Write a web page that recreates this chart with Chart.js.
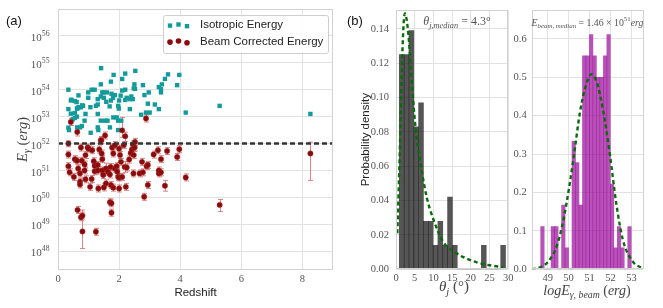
<!DOCTYPE html>
<html>
<head>
<meta charset="utf-8">
<script src="https://cdn.jsdelivr.net/npm/chart.js@4.4.0/dist/chart.umd.min.js"></script>
<style>
  html, body { margin: 0; padding: 0; background: #fff; }
  #wrap { position: relative; width: 663px; height: 308px; overflow: hidden; }
  canvas { position: absolute; top: 0; }
</style>
</head>
<body>
<div id="wrap">
  <canvas id="chartA" width="340" height="308" style="left:0"></canvas>
  <canvas id="chartB" width="185" height="308" style="left:340px"></canvas>
  <canvas id="chartC" width="163" height="308" style="left:500px"></canvas>
</div>
<script>
// ---------- panel (a): redshift vs log10(E_gamma / erg)
const isoPoints = [
  [1.41,54.8],[0.34,54.0],[0.42,53.6],[0.55,53.58],[0.61,53.54],[0.67,53.79],[0.34,53.28],[0.42,53.11],
  [0.55,53.13],[0.62,53.3],[0.67,53.35],[0.75,53.35],[0.82,53.4],[0.48,52.9],[0.55,52.95],[0.62,53.0],
  [0.34,52.59],[0.36,52.5],[0.63,52.6],[0.72,52.6],[0.78,52.65],[0.87,52.85],[0.9,53.1],[0.99,53.9],
  [1.1,54.0],[1.2,54.0],[0.99,53.7],[1.06,53.35],[1.24,53.4],[1.3,53.45],[1.3,53.65],[1.4,53.75],
  [1.45,53.9],[1.5,53.9],[1.6,53.9],[1.4,54.2],[1.3,53.1],[1.3,52.6],[1.32,52.5],[1.07,52.4],
  [1.4,52.85],[1.54,52.85],[1.62,52.85],[1.7,52.6],[1.97,52.5],[1.97,52.85],[1.81,52.97],[1.92,52.97],
  [2.07,52.85],[1.97,53.4],[1.99,53.3],[1.69,53.38],[1.73,53.6],[1.8,53.7],[1.86,53.8],[1.75,53.85],
  [1.58,53.55],[1.5,53.7],[1.73,54.3],[1.82,54.55],[2.0,53.6],[2.05,53.78],[2.1,53.97],[2.2,54.0],
  [2.1,54.4],[2.2,54.6],[2.2,53.62],[2.25,53.7],[2.35,53.65],[2.35,53.28],[2.4,53.75],[2.45,53.65],
  [2.48,54.05],[2.5,54.2],[2.52,54.03],[2.53,54.7],[2.72,53.07],[2.78,54.17],[2.83,53.8],[2.88,53.15],
  [2.94,53.48],[2.97,53.9],[3.0,53.15],[3.17,53.45],[3.3,53.28],[3.3,54.1],[3.37,54.02],[3.37,53.9],
  [3.4,54.2],[3.5,54.4],[3.6,54.57],[3.9,54.17],[3.97,54.55],[4.18,53.15],[5.29,53.4],[8.26,53.1],
  [0.44,53.63],[0.7,53.35],[0.79,53.42],[0.63,53.3]
];
// [z, logE, err down, err up]; missing errors use beamErrDefault
const beamPoints = [
  [0.34,52.0,0.12,0.1],[0.34,51.59],[0.34,51.16],[0.38,50.93],[0.55,51.42],[0.52,50.76],[0.75,51.85],
  [0.62,51.36],[0.66,51.07],[0.72,50.89],[0.72,50.58],[0.72,50.48],[0.78,51.36],[0.87,51.22],[0.87,51.0],
  [0.9,51.57],[0.9,50.67],[0.97,51.85],[1.0,51.81],[1.05,50.39],[1.1,50.68],[1.12,51.75],[1.17,51.34],
  [1.2,50.97],[1.2,51.17],[1.3,51.2],[1.3,51.0],[1.32,50.33],[1.35,51.78],[1.42,52.12],[1.43,51.63],
  [1.45,51.42],[1.45,51.0],[1.48,50.83],[1.5,50.37],[1.57,50.52],[1.57,51.07,0.2,0.2],[1.63,50.95],
  [1.7,50.85],[1.72,51.13],[1.73,50.46],[1.81,50.36],[1.77,51.85],[1.81,51.63],[1.86,51.94],[1.86,51.07],
  [1.92,51.16],[1.94,50.95],[1.97,50.76],[2.0,50.74],[2.0,50.33],[2.0,51.81],[2.03,51.57],[2.06,51.32],
  [2.1,50.76],[2.15,51.94],[2.18,51.13,0.2,0.2],[2.22,50.39],[2.25,51.11],[2.33,51.41],[2.38,51.65],
  [2.42,51.78],[2.45,51.97],[2.47,50.89],[2.48,51.57],[2.52,52.06],[2.51,51.85],[2.67,50.89],[2.75,51.32],
  [2.78,50.93],[2.82,50.02],[2.9,51.16],[2.94,51.2],[2.94,50.46],[3.13,51.59],[3.27,51.75],[3.3,50.89],
  [3.3,51.0],[3.37,51.42],[3.37,50.93],[3.5,50.43,0.2,0.2],[3.57,51.72],[3.9,51.5],[3.97,51.79],
  [4.18,50.74],[5.29,49.72,0.25,0.2],[8.26,51.63,1.0,0.42],[0.64,49.53],[0.75,49.26],[0.8,49.32],
  [0.8,48.73,0.63,0.8],[1.24,48.72],[1.7,49.82],[1.75,49.78],[1.75,49.43],[0.42,52.8],[0.63,52.43,0.15,0.15],
  [2.1,52.49,0.26,0.48],[2.2,52.27,0.2,0.15],[2.88,52.93],[1.54,52.3],[1.4,52.12]
];
const beamErrDefault = 0.13;
const energyThreshold = 52;
const redshiftRange = [0, 9];
const energyRange = [47.3, 57];
const redshiftTicks = [0, 2, 4, 6, 8];
const energyTicks = [48, 49, 50, 51, 52, 53, 54, 55, 56];

// ---------- panel (b): jet opening angle histogram
const thetaBinStart = 0.88;
const thetaBinWidth = 1.29;
const thetaDensity = [0.125,0.125,0.139,0.083,0.097,0.028,0.028,0.014,0.028,0.014,0.042,0.014,
                      0,0,0,0,0,0.014,0,0,0,0.014];
const thetaFit = [[0.36,0.021],[0.7,0.045],[1.07,0.073],[1.5,0.112],[1.8,0.132],[2.1,0.145],[2.4,0.149],
                  [2.8,0.146],[3.3,0.137],[3.9,0.12],[4.6,0.098],[5.5,0.077],[6.9,0.057],[8.2,0.042],
                  [10,0.029],[12.6,0.016],[16.2,0.0093],[19.3,0.0058],[22.4,0.0035],[25.5,0.0022],[28.7,0.0012]];
const thetaRange = [0, 30];
const thetaTicks = [0, 5, 10, 15, 20, 25, 30];
const thetaDensityTicks = [0, 0.02, 0.04, 0.06, 0.08, 0.10, 0.12, 0.14];
const thetaMedian = 4.3;

// ---------- panel (c): beamed energy histogram
const eBinStart = 48.668;
const eBinWidth = 0.166;
const eDensity = [0.111,0,0,0.111,0.111,0,0.167,0.056,0,0.333,0.278,0.167,0.556,0.556,0.611,
                  0.556,0.5,0.5,0.556,0.611,0.222,0.056,0.111,0.056,0,0.111];
const eFit = [[48.24,0.0],[48.72,0.007],[49.03,0.02],[49.43,0.06],[49.74,0.125],[50.06,0.225],[50.3,0.315],
              [50.53,0.405],[50.77,0.468],[51.09,0.508],[51.36,0.484],[51.64,0.415],[51.96,0.302],
              [52.27,0.172],[52.59,0.076],[53.06,0.02],[53.5,0.003]];
const eRange = [48.24, 53.56];
const eTicks = [49, 50, 51, 52, 53];
const eDensityTicks = [0, 0.1, 0.2, 0.3, 0.4, 0.5, 0.6];
const eMedian = '1.46';
const eMedianExp = '51';

// ---------- styling
const serif = "'Liberation Serif', 'DejaVu Serif', serif";
const sans = "'Liberation Sans', Arial, sans-serif";
const gridColor = '#e2e2e2';
const tickColor = '#555';
const tickFont = { size: 10.5 };
const isoColor = '#149a9a';
const beamColor = '#8a0b0b';
const fitColor = '#0b6b0b';

Chart.defaults.font.family = serif;
Chart.defaults.color = tickColor;
Chart.defaults.animation = false;

// text with sub/superscripts, anchored at (x, cy): align 'center' or 'right'
function mathText(ctx, parts, x0, cy, size, color, align) {
  const fontOf = p => (p.i ? 'italic ' : '') + (p.s ? size * 0.7 : size) + 'px ' + serif;
  const widths = parts.map(p => { ctx.font = fontOf(p); return ctx.measureText(p.t).width; });
  const total = widths.reduce((a, b) => a + b, 0);
  let x = align === 'right' ? x0 - total : x0 - total / 2;
  const base = cy + size * 0.33;
  ctx.fillStyle = color;
  ctx.textAlign = 'left';
  ctx.textBaseline = 'alphabetic';
  parts.forEach((p, k) => {
    ctx.font = fontOf(p);
    const dy = p.s === 'sub' ? size * 0.24 : p.s === 'sup' ? -size * 0.45 : 0;
    ctx.fillText(p.t, x, base + dy);
    x += widths[k];
  });
}

function fixBox(w, h) {
  return s => {
    if (w !== null) s.width = w;
    if (h !== null) s.height = h;
    s.paddingTop = 0; s.paddingBottom = 0; s.paddingLeft = 0; s.paddingRight = 0;
  };
}
const setTicks = list => s => { s.ticks = list.map(v => ({ value: v })); };

const frame = {
  id: 'frame',
  afterDatasetsDraw(chart) {
    const { ctx, chartArea: a } = chart;
    ctx.save();
    ctx.strokeStyle = '#d2d2d2';
    ctx.lineWidth = 1;
    ctx.strokeRect(Math.round(a.left) + 0.5, Math.round(a.top) + 0.5,
                   Math.round(a.right - a.left) - 1, Math.round(a.bottom - a.top) - 1);
    ctx.restore();
  }
};

// ---------- chart (a)
const errorBars = {
  id: 'errorBars',
  beforeDatasetsDraw(chart) {
    const { ctx, scales: { x, y } } = chart;
    ctx.save();
    ctx.strokeStyle = 'rgba(205,95,95,0.75)';
    ctx.lineWidth = 1;
    beamPoints.forEach(p => {
      const px = Math.round(x.getPixelForValue(p[0])) + 0.5;
      const lo = y.getPixelForValue(p[1] - (p[2] ?? beamErrDefault));
      const hi = y.getPixelForValue(p[1] + (p[3] ?? beamErrDefault));
      ctx.beginPath();
      ctx.moveTo(px, lo); ctx.lineTo(px, hi);
      ctx.moveTo(px - 2.5, lo); ctx.lineTo(px + 2.5, lo);
      ctx.moveTo(px - 2.5, hi); ctx.lineTo(px + 2.5, hi);
      ctx.stroke();
    });
    ctx.restore();
  }
};

const panelA = {
  id: 'panelA',
  afterDraw(chart) {
    const ctx = chart.ctx;
    const yScale = chart.scales.y;
    ctx.save();
    // power-of-ten tick labels placed by the y scale
    energyTicks.forEach(v => {
      mathText(ctx, [{ t: '10' }, { t: String(v), s: 'sup' }], 49.5, yScale.getPixelForValue(v) + 1.5, 11, tickColor, 'right');
    });
    // panel label
    ctx.font = '13px ' + sans;
    ctx.fillStyle = '#111';
    ctx.textAlign = 'left';
    ctx.textBaseline = 'alphabetic';
    ctx.fillText('(a)', 6, 24.5);
    // y title
    ctx.save();
    ctx.translate(22, 139.5);
    ctx.rotate(-Math.PI / 2);
    mathText(ctx, [{ t: 'E', i: 1 }, { t: 'γ', i: 1, s: 'sub' }, { t: ' (' }, { t: 'erg', i: 1 }, { t: ')' }],
             0, 0, 14.5, '#444');
    ctx.restore();
    // legend
    ctx.fillStyle = 'rgba(255,255,255,0.92)';
    ctx.strokeStyle = '#cfcfcf';
    ctx.lineWidth = 1;
    ctx.beginPath();
    ctx.roundRect(163.5, 15.5, 165, 38, 2);
    ctx.fill();
    ctx.stroke();
    const markerX = [170, 178.5, 187];
    const markerDy = [1.1, 0, 1.7];
    const rows = [
      { label: 'Isotropic Energy', y: 24.5, draw: (x, y) => { ctx.fillStyle = isoColor; ctx.fillRect(x - 2.2, y - 2.2, 4.4, 4.4); } },
      { label: 'Beam Corrected Energy', y: 41, draw: (x, y) => { ctx.fillStyle = beamColor; ctx.beginPath(); ctx.arc(x, y, 2.8, 0, Math.PI * 2); ctx.fill(); } }
    ];
    rows.forEach(r => {
      markerX.forEach((mx, k) => r.draw(mx, r.y + markerDy[k]));
      ctx.font = '11.5px ' + sans;
      ctx.fillStyle = '#222';
      ctx.textAlign = 'left';
      ctx.textBaseline = 'middle';
      ctx.fillText(r.label, 200, r.y + 0.5);
    });
    ctx.restore();
  }
};

new Chart(document.getElementById('chartA'), {
  type: 'scatter',
  data: {
    datasets: [
      {
        label: 'Isotropic Energy',
        data: isoPoints.map(p => ({ x: p[0], y: p[1] })),
        pointStyle: 'rect',
        pointRadius: 3.1,
        backgroundColor: isoColor,
        borderWidth: 0,
        order: 2
      },
      {
        label: 'Beam Corrected Energy',
        data: beamPoints.map(p => ({ x: p[0], y: p[1] })),
        pointStyle: 'circle',
        pointRadius: 2.7,
        backgroundColor: beamColor,
        borderColor: 'rgba(170,50,50,0.4)',
        borderWidth: 1,
        order: 1
      },
      {
        label: 'threshold',
        data: redshiftRange.map(z => ({ x: z, y: energyThreshold })),
        showLine: true,
        pointRadius: 0,
        borderColor: '#333',
        borderWidth: 2.5,
        borderDash: [5, 3],
        order: 0
      }
    ]
  },
  options: {
    responsive: false,
    devicePixelRatio: 1,
    layout: { padding: { left: 0, top: 9, right: 7, bottom: 0 } },
    plugins: { legend: { display: false }, tooltip: { enabled: false } },
    scales: {
      x: {
        type: 'linear', min: redshiftRange[0], max: redshiftRange[1],
        afterBuildTicks: setTicks(redshiftTicks),
        afterFit: fixBox(null, 38),
        grid: { color: gridColor, drawTicks: false },
        border: { display: false },
        ticks: { font: tickFont, color: tickColor, padding: 2.5 },
        title: { display: true, text: 'Redshift', color: '#222', font: { family: sans, size: 11.5 },
                 padding: { top: 0, bottom: 8.4 } }
      },
      y: {
        type: 'linear', min: energyRange[0], max: energyRange[1],
        afterBuildTicks: setTicks(energyTicks),
        afterFit: fixBox(58, null),
        grid: { color: gridColor, drawTicks: false },
        border: { display: false },
        ticks: { display: false }
      }
    }
  },
  plugins: [errorBars, frame, panelA]
});

// ---------- chart (b)
const panelB = {
  id: 'panelB',
  afterDraw(chart) {
    const ctx = chart.ctx;
    ctx.save();
    ctx.font = '13px ' + sans;
    ctx.fillStyle = '#111';
    ctx.textAlign = 'left';
    ctx.textBaseline = 'alphabetic';
    ctx.fillText('(b)', 7, 24.5);
    mathText(ctx, [{ t: 'θ', i: 1 }, { t: 'j,median', i: 1, s: 'sub' }, { t: ' = ' + thetaMedian + '°' }],
             117, 21.5, 12, '#555');
    mathText(ctx, [{ t: 'θ', i: 1 }, { t: 'j', i: 1, s: 'sub' }, { t: ' (°)' }], 114, 286, 15, '#444');
    ctx.restore();
  }
};

new Chart(document.getElementById('chartB'), {
  type: 'bar',
  data: {
    datasets: [
      {
        type: 'bar',
        data: thetaDensity.map((d, i) => ({ x: thetaBinStart + (i + 0.5) * thetaBinWidth, y: d })),
        backgroundColor: 'rgba(20,20,20,0.72)',
        borderWidth: 0,
        barPercentage: 1,
        categoryPercentage: 1,
        order: 1
      },
      {
        type: 'line',
        data: thetaFit.map(p => ({ x: p[0], y: p[1] })),
        borderColor: fitColor,
        borderWidth: 2.4,
        borderDash: [4, 3],
        pointRadius: 0,
        cubicInterpolationMode: 'monotone',
        fill: false,
        order: 0
      }
    ]
  },
  options: {
    responsive: false,
    devicePixelRatio: 1,
    layout: { padding: { left: 0, top: 10, right: 16.7, bottom: 0 } },
    plugins: { legend: { display: false }, tooltip: { enabled: false } },
    scales: {
      x: {
        type: 'linear', min: thetaRange[0], max: thetaRange[1], offset: false,
        afterBuildTicks: setTicks(thetaTicks),
        afterFit: fixBox(null, 38.7),
        grid: { color: gridColor, drawTicks: false, offset: false },
        border: { display: false },
        ticks: { font: tickFont, color: tickColor, padding: 2.5 }
      },
      y: {
        type: 'linear', min: 0, max: 0.151,
        afterBuildTicks: setTicks(thetaDensityTicks),
        afterFit: fixBox(56, null),
        grid: { color: gridColor, drawTicks: false },
        border: { display: false },
        ticks: { font: tickFont, color: tickColor, padding: 7, callback: v => v.toFixed(2) },
        title: { display: true, text: 'Probability density', color: '#222', font: { family: sans, size: 11.5 },
                 padding: { top: 19, bottom: 0 } }
      }
    }
  },
  plugins: [frame, panelB]
});

// ---------- chart (c)
const panelC = {
  id: 'panelC',
  afterDraw(chart) {
    const ctx = chart.ctx;
    ctx.save();
    mathText(ctx, [{ t: 'E', i: 1 }, { t: 'beam, median', i: 1, s: 'sub' }, { t: ' = ' + eMedian + ' × 10' },
                   { t: eMedianExp, s: 'sup' }, { t: 'erg', i: 1 }], 87.5, 22.5, 9.8, '#555');
    mathText(ctx, [{ t: 'logE', i: 1 }, { t: 'γ, beam', i: 1, s: 'sub' }, { t: ' (' }, { t: 'erg', i: 1 }, { t: ')' }],
             87, 290, 14, '#444');
    ctx.restore();
  }
};

new Chart(document.getElementById('chartC'), {
  type: 'bar',
  data: {
    datasets: [
      {
        type: 'bar',
        data: eDensity.map((d, i) => ({ x: eBinStart + (i + 0.5) * eBinWidth, y: d })),
        backgroundColor: 'rgba(150,0,150,0.68)',
        borderWidth: 0,
        barPercentage: 1,
        categoryPercentage: 1,
        order: 1
      },
      {
        type: 'line',
        data: eFit.map(p => ({ x: p[0], y: p[1] })),
        borderColor: fitColor,
        borderWidth: 2.4,
        borderDash: [4, 3],
        pointRadius: 0,
        cubicInterpolationMode: 'monotone',
        fill: false,
        order: 0
      }
    ]
  },
  options: {
    responsive: false,
    devicePixelRatio: 1,
    layout: { padding: { left: 0, top: 10, right: 19.7, bottom: 0 } },
    plugins: { legend: { display: false }, tooltip: { enabled: false } },
    scales: {
      x: {
        type: 'linear', min: eRange[0], max: eRange[1], offset: false,
        afterBuildTicks: setTicks(eTicks),
        afterFit: fixBox(null, 38.7),
        grid: { color: gridColor, drawTicks: false, offset: false },
        border: { display: false },
        ticks: { font: tickFont, color: tickColor, padding: 2.5 }
      },
      y: {
        type: 'linear', min: 0, max: 0.675,
        afterBuildTicks: setTicks(eDensityTicks),
        afterFit: fixBox(31.7, null),
        grid: { color: gridColor, drawTicks: false },
        border: { display: false },
        ticks: { font: tickFont, color: tickColor, padding: 5, callback: v => v.toFixed(1) }
      }
    }
  },
  plugins: [frame, panelC]
});
</script>
</body>
</html>
